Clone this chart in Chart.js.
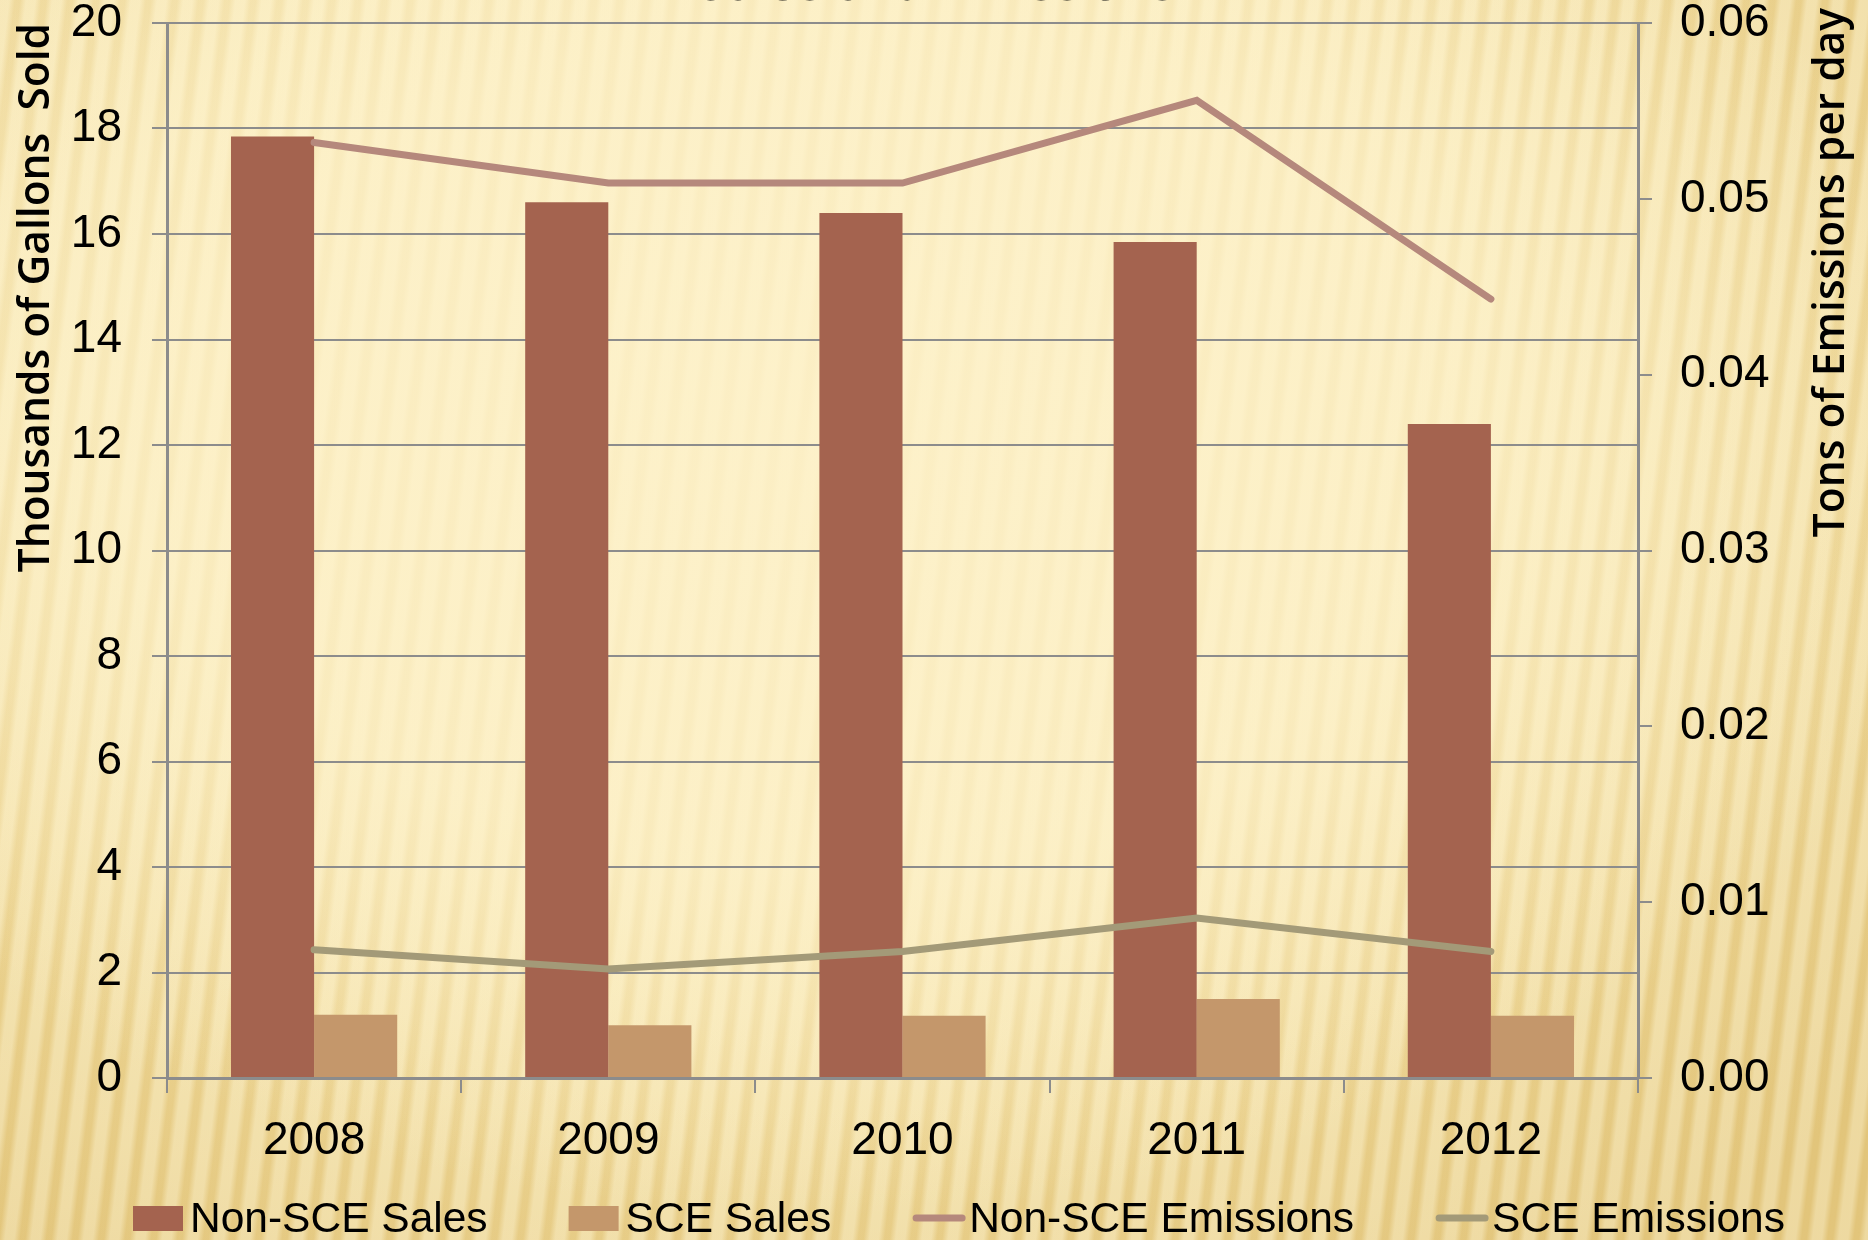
<!DOCTYPE html>
<html>
<head>
<meta charset="utf-8">
<script src="https://cdn.jsdelivr.net/npm/chart.js@4.4.0/dist/chart.umd.min.js"></script>
<style>
    html, body {
        margin: 0;
        padding: 0;
    }
    body {
        width: 1868px;
        height: 1240px;
        overflow: hidden;
        background:
            radial-gradient(ellipse 62% 62% at 44% 36%, rgba(253,241,201,0.85) 0%, rgba(253,241,201,0.7) 55%, rgba(253,241,201,0) 100%),
            repeating-linear-gradient(97deg, rgba(255,250,225,0.30) 0px, rgba(255,250,225,0.30) 9px, rgba(205,165,70,0.16) 15px, rgba(205,165,70,0.16) 20px, rgba(255,250,225,0.30) 26px),
            radial-gradient(ellipse 80% 85% at 42% 30%, #fcefc4 0%, #f8e8b4 45%, #f0da9c 72%, #e6cb85 100%);
    }
    #wrap {
        position: relative;
        width: 1868px;
        height: 1240px;
    }
</style>
</head>
<body>
<div id="wrap"><canvas id="graficoVendas" width="1868" height="1240"></canvas></div>
<script>
const anos = ['2008', '2009', '2010', '2011', '2012'];
const vendasNonSCE = [17.85, 16.6, 16.4, 15.85, 12.4];
const vendasSCE = [1.2, 1.0, 1.18, 1.5, 1.18];
const emissoesNonSCE = [0.0532, 0.0509, 0.0509, 0.0556, 0.0443];
const emissoesSCE = [0.0073, 0.0062, 0.0072, 0.0091, 0.0072];

const fonte = "'Liberation Sans', Arial, sans-serif";
const fonteTitulo = "'Open Sans', 'Liberation Sans', sans-serif";
const cinza = '#8c8c8c';

Chart.defaults.font.family = fonte;
Chart.defaults.color = '#000';

// titulo cortado no topo, titulo do eixo direito e legenda em linha embaixo
const tituloELegenda = {
    id: 'tituloELegenda',
    afterDraw(chart) {
        const ctx = chart.ctx;
        ctx.save();
        ctx.fillStyle = '#000';
        ctx.font = '52px ' + fonte;
        ctx.textAlign = 'center';
        ctx.textBaseline = 'alphabetic';
        ctx.fillText('Sales and Emissions', chart.width / 2, 0);

        ctx.save();
        ctx.translate(1832, 8);
        ctx.rotate(-Math.PI / 2);
        ctx.font = '600 42.5px ' + fonteTitulo;
        ctx.textAlign = 'right';
        ctx.textBaseline = 'middle';
        ctx.fillText('Tons of Emissions per day', 0, 0);
        ctx.restore();

        ctx.font = '42.5px ' + fonte;
        ctx.textAlign = 'left';
        ctx.textBaseline = 'middle';
        let x = 133;
        const y = 1218;
        chart.data.datasets.forEach((dataset) => {
            if (dataset.type === 'line') {
                ctx.strokeStyle = dataset.borderColor;
                ctx.lineWidth = 7;
                ctx.lineCap = 'round';
                ctx.beginPath();
                ctx.moveTo(x + 4, y);
                ctx.lineTo(x + 50, y);
                ctx.stroke();
            } else {
                ctx.fillStyle = dataset.backgroundColor;
                ctx.fillRect(x, y - 12, 50, 25);
            }
            ctx.fillStyle = '#000';
            ctx.fillText(dataset.label, x + 57, y + 2);
            x += 57 + ctx.measureText(dataset.label).width + 81;
        });
        ctx.restore();
    }
};

function semPaddingExtra(scale) {
    scale.paddingTop = 0;
    scale.paddingBottom = 0;
}

const graficoVendas = new Chart(document.getElementById('graficoVendas'), {
    data: {
        labels: anos,
        datasets: [{
            type: 'bar',
            label: 'Non-SCE Sales',
            data: vendasNonSCE,
            backgroundColor: '#a4634f',
            yAxisID: 'y',
            order: 2
        }, {
            type: 'bar',
            label: 'SCE Sales',
            data: vendasSCE,
            backgroundColor: '#c4976b',
            yAxisID: 'y',
            order: 2
        }, {
            type: 'line',
            label: 'Non-SCE Emissions',
            data: emissoesNonSCE,
            borderColor: '#b5887c',
            backgroundColor: '#b5887c',
            borderWidth: 7,
            borderCapStyle: 'round',
            pointRadius: 0,
            tension: 0,
            yAxisID: 'y1',
            order: 1
        }, {
            type: 'line',
            label: 'SCE Emissions',
            data: emissoesSCE,
            borderColor: '#a39a78',
            backgroundColor: '#a39a78',
            borderWidth: 7,
            borderCapStyle: 'round',
            pointRadius: 0,
            tension: 0,
            yAxisID: 'y1',
            order: 1
        }]
    },
    options: {
        responsive: false,
        animation: false,
        layout: {
            padding: { top: 23, bottom: 82, left: 0, right: 0 }
        },
        datasets: {
            bar: {
                categoryPercentage: 0.565,
                barPercentage: 1
            }
        },
        plugins: {
            legend: { display: false },
            tooltip: { enabled: false }
        },
        scales: {
            x: {
                grid: {
                    drawOnChartArea: false,
                    drawTicks: true,
                    tickLength: 15,
                    color: cinza,
                    lineWidth: 2
                },
                border: { color: cinza, width: 3 },
                ticks: {
                    font: { size: 46 },
                    padding: 21,
                    color: '#000'
                },
                afterFit(scale) {
                    scale.height = 80;
                }
            },
            y: {
                position: 'left',
                min: 0,
                max: 20,
                ticks: {
                    stepSize: 2,
                    font: { size: 46 },
                    padding: 30,
                    color: '#000'
                },
                grid: {
                    color: cinza,
                    lineWidth: 2,
                    tickLength: 15
                },
                border: { color: cinza, width: 3 },
                title: {
                    display: true,
                    text: 'Thousands of Gallons  Sold',
                    align: 'end',
                    font: { size: 42.5, weight: '600', family: fonteTitulo },
                    color: '#000',
                    padding: { top: 11, bottom: 0 }
                },
                afterFit(scale) {
                    scale.width = 167;
                    semPaddingExtra(scale);
                }
            },
            y1: {
                position: 'right',
                min: 0,
                max: 0.06,
                ticks: {
                    stepSize: 0.01,
                    font: { size: 46 },
                    padding: 28,
                    color: '#000',
                    callback: (valor) => valor.toFixed(2)
                },
                grid: {
                    drawOnChartArea: false,
                    color: cinza,
                    lineWidth: 2,
                    tickLength: 14
                },
                border: { color: cinza, width: 3 },
                afterFit(scale) {
                    scale.width = 230;
                    semPaddingExtra(scale);
                }
            }
        }
    },
    plugins: [tituloELegenda]
});
</script>
</body>
</html>
